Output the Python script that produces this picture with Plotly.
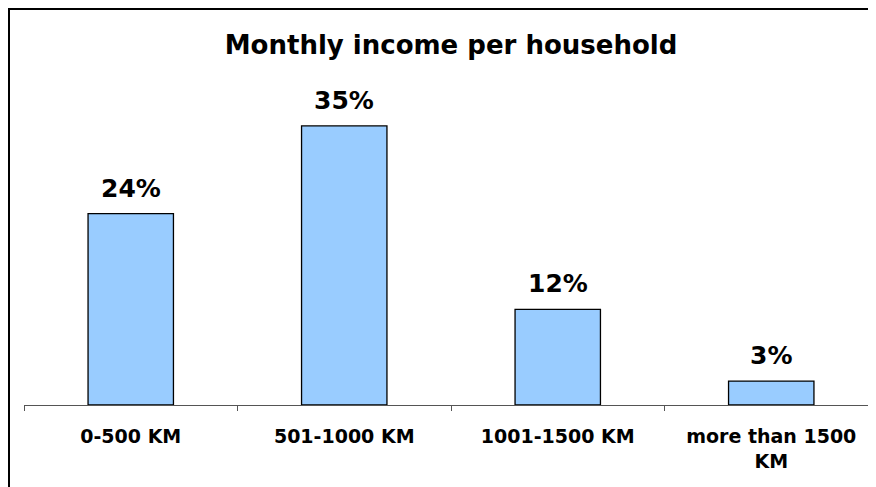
import plotly.graph_objects as go

categories = ["0-500 KM", "501-1000 KM", "1001-1500 KM", "more than 1500<br>KM"]
values = [24, 35, 12, 3]
labels = ["24%", "35%", "12%", "3%"]
title_text = "Monthly income per household"

FONT = "DejaVu Sans"

# page body has an 8px margin, so positions are compensated
L, R, T, B = 16, 6, 78, 90
W, H = 876, 487
PW = W - L - R
PH = H - T - B

fig = go.Figure()
fig.add_trace(go.Bar(
    x=categories, y=values, width=0.4,
    marker=dict(color="#99CCFF", line=dict(color="#000000", width=1.3)),
    hoverinfo="skip",
))

for c, v, t in zip(categories, values, labels):
    fig.add_annotation(x=c, y=v, text="<b>%s</b>" % t, showarrow=False,
                       yanchor="bottom", yshift=9,
                       font=dict(family=FONT, size=25, color="#000"))

fig.update_layout(
    width=W, height=H,
    margin=dict(l=L, r=R, t=T, b=B),
    paper_bgcolor="white", plot_bgcolor="white",
    showlegend=False,
    title=dict(text="<b>%s</b>" % title_text, x=0.5, xref="paper",
               y=1 - 37 / H, yanchor="middle",
               font=dict(family=FONT, size=26, color="#000")),
    xaxis=dict(type="category", range=[-0.5, 3.5], showline=True,
               linecolor="#555", linewidth=1.3, ticks="outside",
               tickson="boundaries", ticklen=5, tickcolor="#555",
               tickwidth=1.3, showgrid=False, zeroline=False,
               tickfont=dict(family=FONT, size=19, color="#000"),
               ticklabelstandoff=14,
               tickvals=categories,
               ticktext=["<b>%s</b>" % c for c in categories]),
    yaxis=dict(range=[0, 40], visible=False, showgrid=False, zeroline=False),
    font=dict(family=FONT),
)

fig.add_shape(type="rect", xref="paper", yref="paper",
              x0=(1 - L) / PW, x1=1.05, y0=-0.5, y1=(PH + T - 1) / PH,
              line=dict(color="#000", width=2), fillcolor="rgba(0,0,0,0)",
              layer="above")

fig.write_html("out.html")
